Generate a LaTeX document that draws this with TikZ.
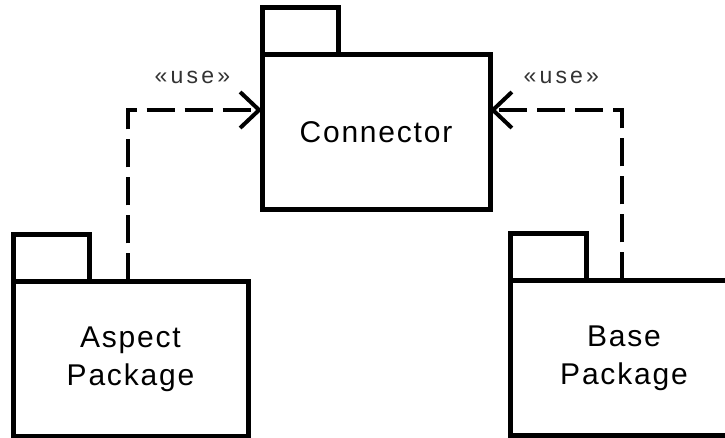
\documentclass[tikz,border=0pt]{standalone}
\usepackage{fontspec}
\setmainfont{Liberation Sans}[LetterSpace=6]
\newfontfamily\stereofont{Liberation Sans}[LetterSpace=14]
\usetikzlibrary{arrows.meta, positioning}

\tikzset{
    pkg/.style={draw, line width=5pt, outer sep=0pt, minimum height=155pt, align=center,
        font=\fontsize{30}{38}\selectfont},
    pkgtab/.style={draw, line width=5pt, outer sep=0pt, minimum width=76pt, minimum height=47pt},
    uses/.style={dash pattern=on 28pt off 10pt, line width=4pt,
        -{Straight Barb[length=19pt, width=36pt, line width=4pt]}},
    stereo/.style={font=\stereofont\fontsize{23}{26}\selectfont, text=black!80}
}

\begin{document}
\begin{tikzpicture}[x=1pt, y=-1pt]
    \useasboundingbox (0,0) rectangle (725,438);
    \clip (0,0) rectangle (725,438);

    % Packages
    \node[pkg, minimum width=228pt] (conn) at (376,132.5) {Connector};
    \node[pkgtab, above right=0pt of conn.north west] (conntab) {};

    \node[pkg, minimum width=235pt] (aspect) at (130.5,359) {Aspect\\Package};
    \node[pkgtab, above right=0pt of aspect.north west] (aspecttab) {};

    \node[pkg, minimum width=228pt] (base) at (624,358) {Base\\Package};
    \node[pkgtab, above right=0pt of base.north west] (basetab) {};

    % Dependencies
    \draw[uses] ([xshift=115pt]aspect.north west) |- ([yshift=22.5pt]conn.west)
        node[pos=0.74, above=21pt, stereo] {«use»};
    \draw[uses] ([xshift=112pt]base.north west) |- ([yshift=22.5pt]conn.east)
        node[pos=0.73, above=21pt, stereo] {«use»};
\end{tikzpicture}
\end{document}
